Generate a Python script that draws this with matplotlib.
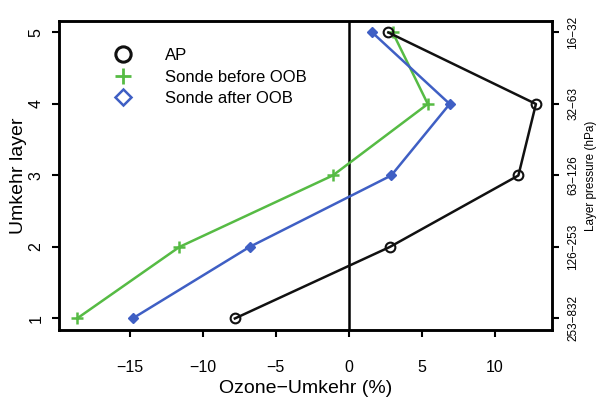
"""Ozone-Umkehr differences by Umkehr layer."""

import matplotlib
matplotlib.use("Agg")
import matplotlib.pyplot as plt
from matplotlib.lines import Line2D

plt.rcParams["font.family"] = ["Liberation Sans", "DejaVu Sans"]

layers = [1, 2, 3, 4, 5]
ap = [-7.8, 2.8, 11.6, 12.8, 2.7]
sonde_before = [-18.6, -11.6, -1.1, 5.4, 3.0]
sonde_after = [-14.8, -6.8, 2.9, 6.9, 1.6]
pressure_labels = ["253\u2212832", "126\u2212253", "63\u2212126", "32\u221263", "16\u221232"]
x_ticks = [-15, -10, -5, 0, 5, 10]

BLACK = "#111111"
GREEN = "#56bb44"
BLUE = "#3f5fc4"

fig = plt.figure(figsize=(6.0, 3.97), dpi=100)
ax = fig.add_axes([0.098, 0.169, 0.822, 0.778])

ax.axvline(0, color="black", linewidth=1.8, zorder=1)
ax.plot(sonde_before, layers, color=GREEN, linewidth=1.8, marker="+",
        markersize=8, markeredgewidth=1.8, zorder=3)
ax.plot(sonde_after, layers, color=BLUE, linewidth=1.8, marker="D",
        markersize=5.5, markerfacecolor=BLUE, zorder=3)
ax.plot(ap, layers, color=BLACK, linewidth=1.8, marker="o", markersize=7,
        markerfacecolor="none", markeredgewidth=1.5, zorder=4)

ax.set_xlim(-19.85, 13.9)
ax.set_ylim(0.84, 5.16)
ax.set_xticks(x_ticks)
ax.set_xticklabels([str(v).replace("-", "\u2212") for v in x_ticks])
ax.set_yticks(layers)
ax.set_yticklabels([str(v) for v in layers], rotation=90, va="center")
ax.tick_params(direction="out", length=5, width=1.5, labelsize=11.5, pad=6)
ax.tick_params(axis="x", pad=17)
for s in ax.spines.values():
    s.set_linewidth(1.8)

ax.set_xlabel("Ozone\u2212Umkehr (%)", fontsize=14, labelpad=3)
ax.set_ylabel("Umkehr layer", fontsize=14, labelpad=1)

ax2 = ax.twinx()
ax2.set_ylim(ax.get_ylim())
ax2.set_yticks(layers)
ax2.set_yticklabels(pressure_labels, rotation=90, va="center", fontsize=8.5)
ax2.tick_params(direction="out", length=5, width=1.5, pad=6)
ax2.set_ylabel("Layer pressure (hPa)", fontsize=8.5, rotation=90, labelpad=4)
for s in ax2.spines.values():
    s.set_linewidth(1.8)

handles = [
    Line2D([], [], linestyle="none", marker="o", markersize=11,
           markerfacecolor="none", markeredgecolor=BLACK, markeredgewidth=2.2),
    Line2D([], [], linestyle="none", marker="+", markersize=11,
           color=GREEN, markeredgewidth=2),
    Line2D([], [], linestyle="none", marker="D", markersize=8,
           markerfacecolor="none", markeredgecolor=BLUE, markeredgewidth=1.8),
]
ax2.legend(handles, ["AP", "Sonde before OOB", "Sonde after OOB"],
           loc="upper left", bbox_to_anchor=(0.08, 0.94), frameon=False,
           fontsize=12, handletextpad=1.5, labelspacing=0.4, borderpad=0)

fig.savefig("out.png", dpi=100)
